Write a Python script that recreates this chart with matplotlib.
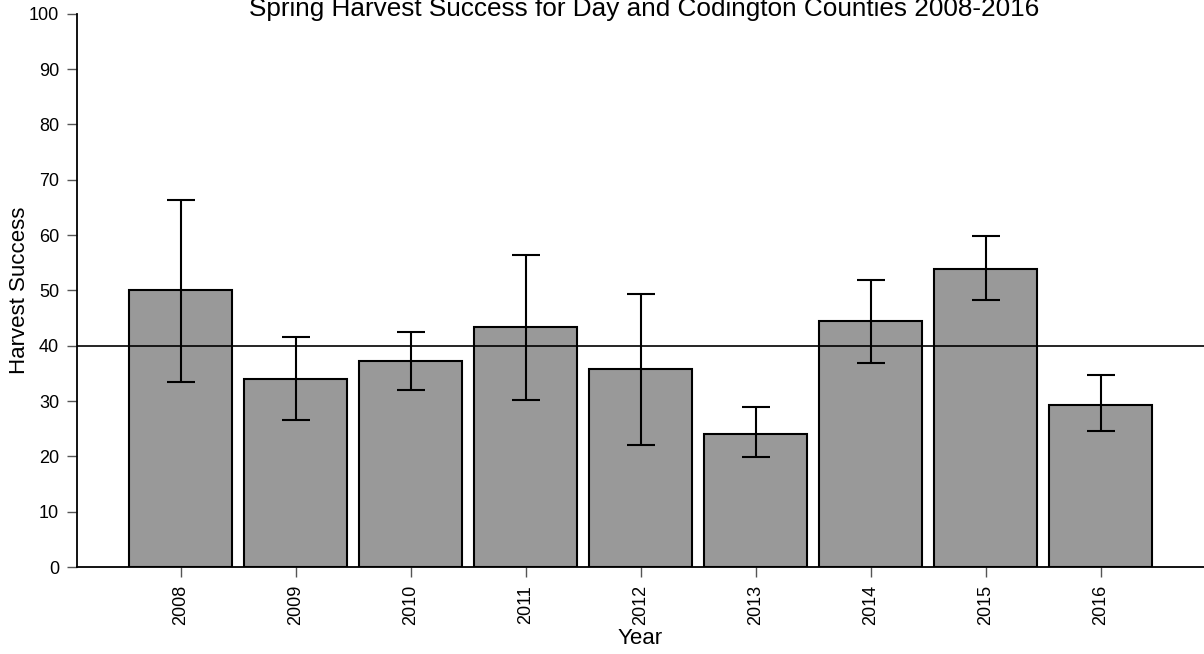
import numpy as np
import matplotlib
matplotlib.use("Agg")
import matplotlib.pyplot as plt

plt.rcParams['font.family'] = ['Liberation Sans', 'DejaVu Sans']

years = ["2008", "2009", "2010", "2011", "2012", "2013", "2014", "2015", "2016"]
success = [50.0, 34.0, 37.2, 43.3, 35.7, 24.0, 44.4, 53.9, 29.3]
err_low = [33.5, 26.6, 32.0, 30.1, 22.1, 19.9, 36.8, 48.3, 24.6]
err_high = [66.4, 41.6, 42.4, 56.4, 49.4, 28.9, 51.9, 59.9, 34.7]
ref_line = 40

fig = plt.figure(figsize=(12.04, 6.54), dpi=100)
ax = fig.add_axes([0.064, 0.133, 0.936, 0.846])

x = np.arange(len(years))
ax.bar(x, success, width=0.9, color="#999999", edgecolor="black", linewidth=1.5, zorder=2)
lo = np.array(success) - np.array(err_low)
hi = np.array(err_high) - np.array(success)
ax.errorbar(x, success, yerr=[lo, hi], fmt="none", ecolor="black", elinewidth=1.5,
            capsize=10, capthick=1.5, zorder=3)
ax.axhline(ref_line, color="black", linewidth=1.2, zorder=4)

ax.set_xlim(-0.9, 8.9)
ax.set_ylim(0, 100)
ax.set_yticks(range(0, 101, 10))
ax.set_xticks(x)
ax.set_xticklabels(years, rotation=90, fontsize=13)
for lab in ax.get_yticklabels():
    lab.set_fontsize(13)
ax.tick_params(direction="out", length=7, width=1, color="#555555")
ax.tick_params(axis="x", pad=6)
ax.tick_params(axis="y", pad=6)

ax.spines['top'].set_visible(False)
ax.spines['right'].set_visible(False)
ax.spines['left'].set_linewidth(1.3)
ax.spines['bottom'].set_linewidth(1.3)

ax.set_ylabel("Harvest Success", fontsize=16)
ax.yaxis.set_label_coords(-0.042, 0.5)
ax.set_xlabel("Year", fontsize=16, labelpad=2)
fig.text(0.535, 1 - 16 / 654, "Spring Harvest Success for Day and Codington Counties 2008-2016",
         ha="center", va="baseline", fontsize=18.8)

fig.savefig("out.png", dpi=100)
